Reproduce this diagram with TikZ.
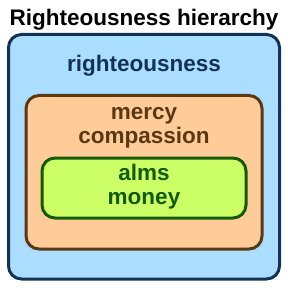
\documentclass[tikz,border=0pt]{standalone}
\usepackage{fontspec}
\setmainfont{Liberation Sans}
\definecolor{outerfill}{HTML}{AADDFF}
\definecolor{outerline}{HTML}{123355}
\definecolor{midfill}{HTML}{FFCC99}
\definecolor{midline}{HTML}{5A3812}
\definecolor{innerfill}{HTML}{CCFF66}
\definecolor{innerline}{HTML}{145A00}
\tikzset{
  box/.style={line width=3pt, rounded corners=13pt},
  lbl/.style={anchor=base, inner sep=0pt, font=\fontsize{22.5}{24}\selectfont\bfseries},
}
\begin{document}
\begin{tikzpicture}[x=1pt,y=-1pt]
\useasboundingbox[fill=white] (0,0) rectangle (288,288);
\node[lbl, text=black] (title) at (144,26) {Righteousness hierarchy};
\draw[box, draw=outerline, fill=outerfill] (8.5,34.5) rectangle (279.5,279);
\node[lbl, text=outerline] (r) at (144,72) {righteousness};
\draw[box, draw=midline, fill=midfill] (26,95.5) rectangle (262,249);
\node[lbl, text=midline] (m1) at (144,119.3) {mercy};
\node[lbl, text=midline] (m2) at (144,143.3) {compassion};
\draw[box, draw=innerline, fill=innerfill] (42,158) rectangle (246,218);
\node[lbl, text=innerline] (a1) at (144,180.7) {alms};
\node[lbl, text=innerline] (a2) at (144,204.3) {money};
\end{tikzpicture}
\end{document}
